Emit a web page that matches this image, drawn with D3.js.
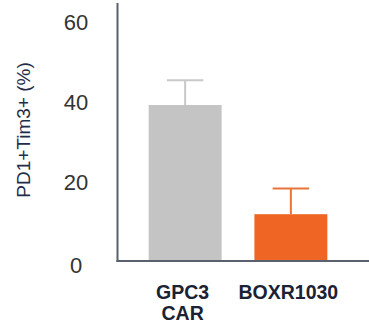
<!DOCTYPE html>
<html><head><meta charset="utf-8">
<script src="https://cdn.jsdelivr.net/npm/d3@7"></script>
<style>html,body{margin:0;padding:0;background:#fff;}svg{display:block;}</style>
</head><body>
<svg id="chart" width="369" height="333"></svg>
<script>
const categories = [["GPC3","CAR"],["BOXR1030"]];
const values = [39, 11.7];
const errors = [6.2, 6.4];
const yTicks = [0, 20, 40, 60];
const barColors = ["#c4c4c4", "#ee6524"];
const errColors = ["#c8c8c8", "#e8743a"];
const yLabel = "PD1+Tim3+ (%)";

const svg = d3.select("#chart");
const x = d3.scaleBand().domain(d3.range(categories.length)).range([118, 358]).paddingInner(0.31).paddingOuter(0.29);
const y = d3.scaleLinear().domain([0, 60]).range([261, 21]);

// bars
svg.selectAll("rect.bar").data(values).enter().append("rect")
  .attr("x", (d,i)=>x(i)).attr("width", x.bandwidth())
  .attr("y", d=>y(d)).attr("height", d=>y(0)-y(d))
  .attr("fill", (d,i)=>barColors[i]);

// error bars
const eg = svg.selectAll("g.err").data(values).enter().append("g");
eg.append("line")
  .attr("x1",(d,i)=>x(i)+x.bandwidth()/2).attr("x2",(d,i)=>x(i)+x.bandwidth()/2)
  .attr("y1",d=>y(d)).attr("y2",(d,i)=>y(d+errors[i]))
  .attr("stroke",(d,i)=>errColors[i]).attr("stroke-width",2);
eg.append("line")
  .attr("x1",(d,i)=>x(i)+x.bandwidth()/4).attr("x2",(d,i)=>x(i)+x.bandwidth()*3/4)
  .attr("y1",(d,i)=>y(d+errors[i])).attr("y2",(d,i)=>y(d+errors[i]))
  .attr("stroke",(d,i)=>errColors[i]).attr("stroke-width",2);

// axes lines
svg.append("line").attr("x1",117.5).attr("x2",117.5).attr("y1",3).attr("y2",y(0)+1)
  .attr("stroke","#59616d").attr("stroke-width",2);
svg.append("line").attr("x1",116.5).attr("x2",369).attr("y1",y(0)).attr("y2",y(0))
  .attr("stroke","#59616d").attr("stroke-width",2);

// y tick labels
svg.selectAll("text.yt").data(yTicks).enter().append("text")
  .attr("x",76).attr("y",d=>y(d)+ (d===0?4:1)).attr("dy","0.35em")
  .attr("text-anchor","middle")
  .style("font-family","Liberation Sans, Arial, sans-serif").style("font-size","22px")
  .attr("fill","#333")
  .text(d=>d);

// y label
svg.append("text").attr("transform","translate(30,130) rotate(-90)")
  .attr("text-anchor","middle")
  .style("font-family","Liberation Sans, Arial, sans-serif").style("font-size","19px")
  .attr("fill","#1f2d4a").text(yLabel);

// category labels
const cg = svg.selectAll("text.cat").data(categories).enter().append("text")
  .attr("text-anchor","middle")
  .style("font-family","Liberation Sans, Arial, sans-serif").style("font-size","19.5px").style("font-weight","bold")
  .attr("fill","#1a2233");
cg.selectAll("tspan").data((d,i)=>d.map(t=>({t,i}))).enter().append("tspan")
  .attr("x",d=>x(d.i)+x.bandwidth()/2-2.5)
  .attr("y",(d,j)=>298.5+j*21)
  .text(d=>d.t);
</script>
</body></html>
